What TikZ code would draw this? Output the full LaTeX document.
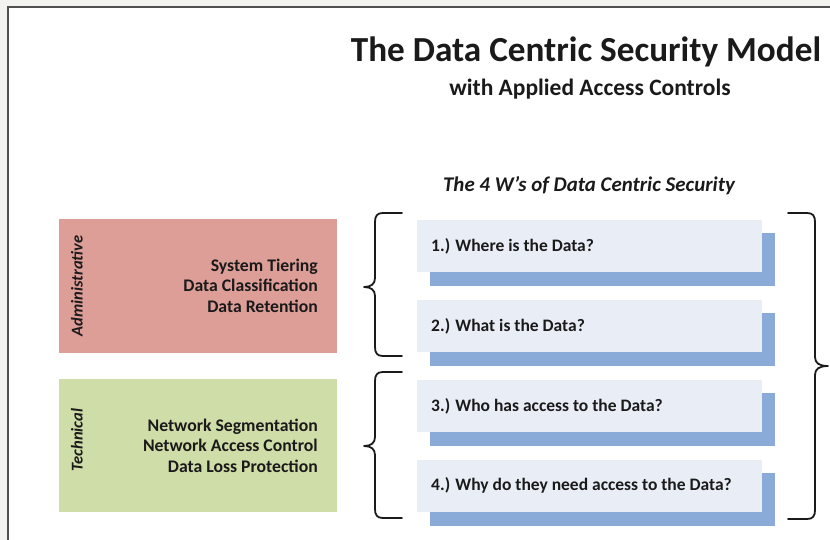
\documentclass[tikz,border=0pt]{standalone}
\usepackage{fontspec}
\setmainfont{Carlito}
\definecolor{bggray}{HTML}{F2F2EE}
\definecolor{frame}{HTML}{505050}
\definecolor{adminred}{HTML}{DE9E98}
\definecolor{techgreen}{HTML}{CFDDA8}
\definecolor{qlight}{HTML}{E9EEF6}
\definecolor{qdark}{HTML}{8AAAD8}
\definecolor{ink}{HTML}{1A1A1A}
\tikzset{
  catbox/.style={draw=none, minimum width=278pt, minimum height=133pt, inner sep=0pt},
  catlabel/.style={font=\bfseries\itshape\fontsize{16.5}{19}\selectfont, text=ink, rotate=90, inner sep=0pt},
  itemlist/.style={font=\bfseries\fontsize{17.7}{20.5}\selectfont, text=ink, align=right, anchor=east, inner sep=0pt},
  qbox/.style={fill=qlight, minimum width=345pt, minimum height=52pt, inner sep=0pt},
  qshadow/.style={fill=qdark, minimum width=345pt, minimum height=53pt, inner sep=0pt},
  qtext/.style={font=\bfseries\fontsize{17.5}{19}\selectfont, text=ink, anchor=west, inner sep=0pt},
  bracestyle/.style={draw=ink, line width=1.8pt, line cap=round, line join=round},
}
\newcommand\myLBrace[6]{% tip x, vertical x, end x, top y, tip y, bottom y
  \draw[bracestyle] (#3,#4) -- ({#2+8},#4) .. controls ({#2+2},#4) and (#2,{#4+3}) .. (#2,{#4+9})
    -- (#2,{#5-9}) .. controls (#2,{#5-3}) and ({#2-4},#5) .. (#1,#5)
    .. controls ({#2-4},#5) and (#2,{#5+3}) .. (#2,{#5+9})
    -- (#2,{#6-9}) .. controls (#2,{#6-3}) and ({#2+2},#6) .. ({#2+8},#6) -- (#3,#6);}
\newcommand\myRBrace[6]{% tip x, vertical x, end x, top y, tip y, bottom y
  \draw[bracestyle] (#3,#4) -- ({#2-8},#4) .. controls ({#2-2},#4) and (#2,{#4+3}) .. (#2,{#4+9})
    -- (#2,{#5-9}) .. controls (#2,{#5-3}) and ({#2+4},#5) .. (#1,#5)
    .. controls ({#2+4},#5) and (#2,{#5+3}) .. (#2,{#5+9})
    -- (#2,{#6-9}) .. controls (#2,{#6-3}) and ({#2-2},#6) .. ({#2-8},#6) -- (#3,#6);}
\begin{document}
\begin{tikzpicture}[x=1pt,y=-1pt]
\useasboundingbox (0,0) rectangle (830,540);
\fill[bggray] (0,0) rectangle (830,540);
\fill[white] (8,7) rectangle (830,540);
\draw[frame, line width=1.5pt] (8,540) -- (8,7) -- (830,7);

% titles
\node[font=\bfseries\fontsize{35.2}{38}\selectfont, text=ink, anchor=base, inner sep=0pt] (title) at (586,62) {The Data Centric Security Model};
\node[font=\bfseries\fontsize{23.5}{26}\selectfont, text=ink, anchor=base, inner sep=0pt] (subtitle) at (590,96) {with Applied Access Controls};
\node[font=\bfseries\itshape\fontsize{20.9}{23}\selectfont, text=ink, anchor=base, inner sep=0pt] (wtitle) at (589,192) {The 4 W’s of Data Centric Security};

% category boxes
\node[catbox, fill=adminred] (admin) at (197.5,286) {};
\node[catlabel] (adminlbl) at (77,286) {Administrative};
\node[itemlist] (adminitems) at (318,285.5) {System Tiering\\Data Classification\\Data Retention};

\node[catbox, fill=techgreen] (tech) at (197.5,445.5) {};
\node[catlabel] (techlbl) at (77,440) {Technical};
\node[itemlist] (techitems) at (318,445.5) {Network Segmentation\\Network Access Control\\Data Loss Protection};

% question boxes
\foreach \i/\y/\q in {1/246/{1.) Where is the Data?},
                     2/326/{2.) What is the Data?},
                     3/406/{3.) Who has access to the Data?},
                     4/485.5/{4.) Why do they need access to the Data?}}{
  \node[qshadow] (qs\i) at (602.5,{\y+13.5}) {};
  \node[qbox] (q\i) at (589.5,\y) {};
  \node[qtext] (qt\i) at (431,\y) {\q};
}

% braces
\myLBrace{364}{375}{402}{213}{287}{356}
\myLBrace{364}{375}{402}{372}{446}{518}
\myRBrace{828}{815}{788}{213}{366}{519}
\end{tikzpicture}
\end{document}
